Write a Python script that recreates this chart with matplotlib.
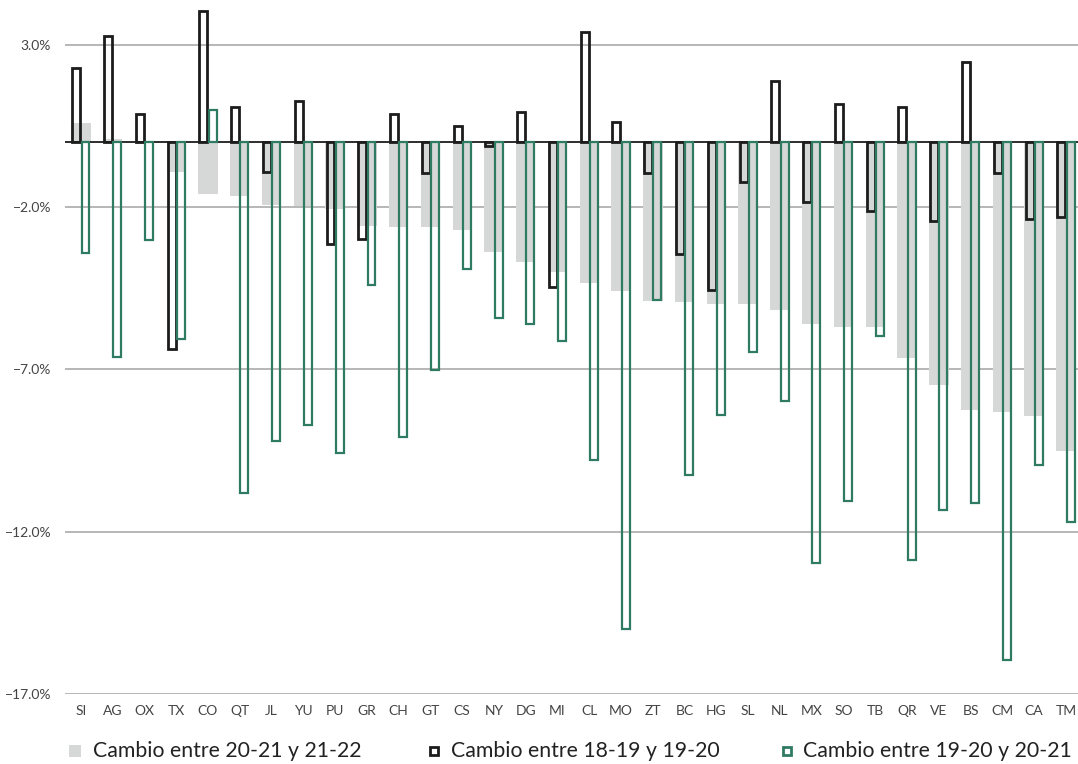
import matplotlib
matplotlib.use("Agg")
import matplotlib.pyplot as plt
from matplotlib.lines import Line2D
import numpy as np

plt.rcParams['font.family'] = ['Lato', 'DejaVu Sans']

categories = ["SI", "AG", "OX", "TX", "CO", "QT", "JL", "YU", "PU", "GR", "CH", "GT",
              "CS", "NY", "DG", "MI", "CL", "MO", "ZT", "BC", "HG", "SL", "NL", "MX",
              "SO", "TB", "QR", "VE", "BS", "CM", "CA", "TM"]

# Cambio entre 20-21 y 21-22 (grey)
cambio_20_22 = [0.58, 0.09, 0.0, -0.91, -1.61, -1.67, -1.95, -1.98, -2.06, -2.58, -2.61, -2.61,
                -2.72, -3.37, -3.70, -4.01, -4.35, -4.57, -4.88, -4.93, -5.00, -5.00, -5.16, -5.59,
                -5.68, -5.68, -6.66, -7.49, -8.24, -8.30, -8.44, -9.52]

# Cambio entre 18-19 y 19-20 (black outline)
cambio_18_20 = [2.28, 3.28, 0.87, -6.36, 4.05, 1.08, -0.91, 1.27, -3.13, -2.97, 0.87, -0.95,
                0.49, -0.11, 0.93, -4.46, 3.40, 0.62, -0.95, -3.46, -4.54, -1.24, 1.89, -1.85,
                1.19, -2.11, 1.08, -2.44, 2.46, -0.95, -2.36, -2.30]

# Cambio entre 19-20 y 20-21 (green outline)
cambio_19_21 = [-3.40, -6.62, -3.00, -6.05, 0.99, -10.80, -9.22, -8.71, -9.57, -4.41, -9.08, -7.01,
                -3.91, -5.42, -5.59, -6.11, -9.79, -15.00, -4.85, -10.25, -8.42, -6.47, -7.96, -12.95,
                -11.06, -5.96, -12.88, -11.34, -11.13, -15.95, -9.96, -11.71]

y_ticks = [3.0, -2.0, -7.0, -12.0, -17.0]

GREY = "#d6d8d7"
BLACK = "#1c1c1c"
GREEN = "#2f7a62"
GRID = "#aaaaaa"
TEXT = "#444444"

fig = plt.figure(figsize=(10.78, 7.64), dpi=100)
ax = fig.add_axes([65/1078, 1 - 694/764, 1 - 65/1078, 694/764])

x = np.arange(len(categories))

for yv in y_ticks:
    ax.axhline(yv, color=GRID, lw=1.2, zorder=0)

ax.bar(x, cambio_20_22, width=0.61, color=GREY, zorder=1, linewidth=0)
ax.axhline(0, color=BLACK, lw=1.3, zorder=2)
ax.bar(x - 0.27, cambio_18_20, width=0.25, align='edge', facecolor='none',
       edgecolor=BLACK, linewidth=2.0, zorder=3)
ax.bar(x + 0.02, cambio_19_21, width=0.25, align='edge', facecolor='none',
       edgecolor=GREEN, linewidth=1.6, zorder=3)

ax.set_xlim(-0.50, 31.38)
ax.set_ylim(-17.0, 4.38)
ax.set_xticks(x)
ax.set_xticklabels(categories)
ax.set_yticks(y_ticks)
ax.set_yticklabels([f"{v:.1f}%".replace("-", "\u2212") for v in y_ticks])
ax.tick_params(axis='both', length=0, labelsize=10, colors=TEXT)
ax.tick_params(axis='x', pad=8)
ax.tick_params(axis='y', pad=10)
for s in ax.spines.values():
    s.set_visible(False)

# legend
leg_y = 1 - 751/764
items = [
    (75, 93, dict(marker='s', markersize=8, markerfacecolor=GREY, markeredgecolor=GREY, markeredgewidth=0),
     "Cambio entre 20-21 y 21-22"),
    (434, 451, dict(marker='s', markersize=6, markerfacecolor='white', markeredgecolor=BLACK, markeredgewidth=2.0),
     "Cambio entre 18-19 y 19-20"),
    (787, 803, dict(marker='s', markersize=6, markerfacecolor='white', markeredgecolor=GREEN, markeredgewidth=2.0),
     "Cambio entre 19-20 y 20-21"),
]
for mx, tx, mstyle, label in items:
    fig.add_artist(Line2D([mx/1078], [leg_y], transform=fig.transFigure, linestyle='none', **mstyle))
    fig.text(tx/1078, leg_y, label, fontsize=15.3, color="#222222", va='center', ha='left')

fig.savefig("out.png", dpi=100)
